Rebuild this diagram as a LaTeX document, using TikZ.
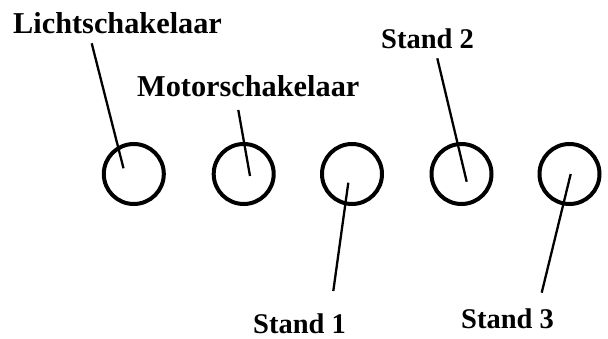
\documentclass[tikz,border=0pt]{standalone}
\usepackage{fontspec}
\setmainfont{Liberation Serif}
\begin{document}
\begin{tikzpicture}[x=1pt,y=-1pt,
  knob/.style={draw,circle,line width=4pt,minimum size=60pt,inner sep=0pt},
  lbl/.style={anchor=base west,inner sep=0pt,font=\fontsize{28.5}{30}\selectfont\bfseries},
  longlbl/.style={lbl,font=\fontsize{30.3}{32}\selectfont\bfseries},
  lead/.style={line width=2.3pt}]
\useasboundingbox (0,0) rectangle (608,338);
\node[knob] (c1) at (133.8,174) {};
\node[knob] (c2) at (243.7,174) {};
\node[knob] (c3) at (352,174) {};
\node[knob] (c4) at (461.5,174) {};
\node[knob] (c5) at (569.5,174) {};
\node[longlbl] (l1) at (13,33.3) {Lichtschakelaar};
\node[longlbl] (l2) at (137,96.7) {Motorschakelaar};
\node[lbl] (l3) at (253,333.3) {Stand 1};
\node[lbl] (l4) at (381,48.3) {Stand 2};
\node[lbl] (l5) at (461,328.3) {Stand 3};
\coordinate (a1) at (91.7,43.3);  \coordinate (b1) at (123.5,168.3);
\coordinate (a2) at (238.3,110);  \coordinate (b2) at (250,176);
\coordinate (a3) at (333.3,291);  \coordinate (b3) at (348.3,182.7);
\coordinate (a4) at (437.3,58.3); \coordinate (b4) at (466.7,181.7);
\coordinate (a5) at (541.7,292.7); \coordinate (b5) at (570.7,174);
\draw[lead] (a1) -- (b1);
\draw[lead] (a2) -- (b2);
\draw[lead] (a3) -- (b3);
\draw[lead] (a4) -- (b4);
\draw[lead] (a5) -- (b5);
\end{tikzpicture}
\end{document}
